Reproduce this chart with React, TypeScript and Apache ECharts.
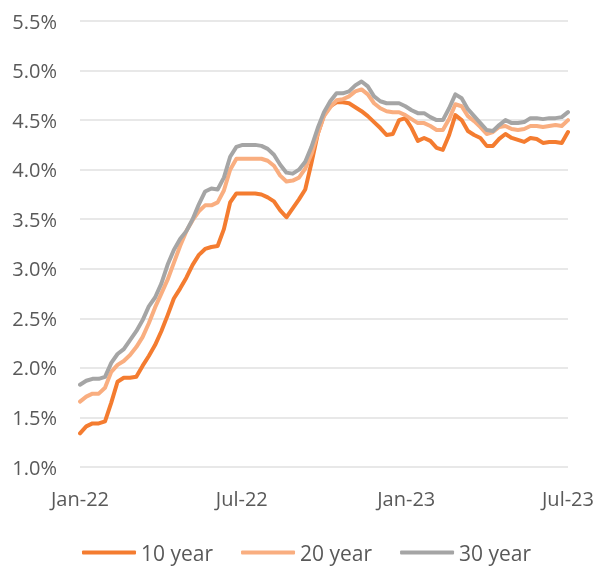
import React, { useEffect, useRef } from "react";
import * as echarts from "echarts";

const dates: string[] = [
  "2022-01-01", "2022-01-08", "2022-01-15", "2022-01-22", "2022-01-29",
  "2022-02-05", "2022-02-12", "2022-02-19", "2022-02-26",
  "2022-03-05", "2022-03-12", "2022-03-19", "2022-03-26",
  "2022-04-02", "2022-04-09", "2022-04-16", "2022-04-23", "2022-04-30",
  "2022-05-07", "2022-05-14", "2022-05-21", "2022-05-28",
  "2022-06-04", "2022-06-11", "2022-06-18", "2022-06-25",
  "2022-07-02", "2022-07-09", "2022-07-16", "2022-07-23", "2022-07-30",
  "2022-08-06", "2022-08-13", "2022-08-20", "2022-08-27",
  "2022-09-03", "2022-09-10", "2022-09-17", "2022-09-24",
  "2022-10-01", "2022-10-08", "2022-10-15", "2022-10-22", "2022-10-29",
  "2022-11-05", "2022-11-12", "2022-11-19", "2022-11-26",
  "2022-12-03", "2022-12-10", "2022-12-17", "2022-12-24", "2022-12-31",
  "2023-01-07", "2023-01-14", "2023-01-21", "2023-01-28",
  "2023-02-04", "2023-02-11", "2023-02-18", "2023-02-25",
  "2023-03-04", "2023-03-11", "2023-03-18", "2023-03-25",
  "2023-04-01", "2023-04-08", "2023-04-15", "2023-04-22", "2023-04-29",
  "2023-05-06", "2023-05-13", "2023-05-20", "2023-05-27",
  "2023-06-03", "2023-06-10", "2023-06-17", "2023-06-24", "2023-07-01",
];

const tenYear: number[] = [
  1.34, 1.41, 1.44, 1.44, 1.46, 1.65, 1.86, 1.90, 1.90, 1.91,
  2.02, 2.12, 2.23, 2.37, 2.53, 2.70, 2.80, 2.91, 3.04, 3.14,
  3.20, 3.22, 3.23, 3.40, 3.67, 3.76, 3.76, 3.76, 3.76, 3.75,
  3.72, 3.68, 3.59, 3.52, 3.61, 3.70, 3.80, 4.07, 4.36, 4.55,
  4.64, 4.68, 4.68, 4.67, 4.63, 4.59, 4.54, 4.48, 4.42, 4.35,
  4.36, 4.50, 4.52, 4.42, 4.29, 4.32, 4.29, 4.22, 4.20, 4.35,
  4.55, 4.50, 4.39, 4.35, 4.32, 4.24, 4.24, 4.31, 4.36, 4.32,
  4.30, 4.28, 4.32, 4.31, 4.27, 4.28, 4.28, 4.27, 4.38,
];

const twentyYear: number[] = [
  1.66, 1.71, 1.74, 1.74, 1.80, 1.96, 2.03, 2.07, 2.13, 2.21,
  2.31, 2.45, 2.61, 2.75, 2.89, 3.06, 3.23, 3.38, 3.49, 3.58,
  3.64, 3.64, 3.67, 3.79, 4.00, 4.11, 4.11, 4.11, 4.11, 4.11,
  4.09, 4.04, 3.94, 3.88, 3.89, 3.92, 4.01, 4.16, 4.36, 4.54,
  4.63, 4.70, 4.71, 4.74, 4.79, 4.81, 4.76, 4.67, 4.62, 4.59,
  4.58, 4.58, 4.55, 4.51, 4.47, 4.47, 4.44, 4.40, 4.40, 4.51,
  4.66, 4.64, 4.54, 4.49, 4.43, 4.36, 4.38, 4.43, 4.44, 4.41,
  4.40, 4.41, 4.44, 4.44, 4.43, 4.44, 4.45, 4.44, 4.50,
];

const thirtyYear: number[] = [
  1.83, 1.87, 1.89, 1.89, 1.91, 2.05, 2.14, 2.19, 2.28, 2.37,
  2.48, 2.62, 2.71, 2.85, 3.04, 3.19, 3.30, 3.38, 3.50, 3.65,
  3.78, 3.81, 3.80, 3.92, 4.13, 4.23, 4.25, 4.25, 4.25, 4.24,
  4.21, 4.15, 4.05, 3.97, 3.96, 4.00, 4.08, 4.23, 4.42, 4.58,
  4.69, 4.77, 4.77, 4.79, 4.85, 4.89, 4.84, 4.74, 4.69, 4.67,
  4.67, 4.67, 4.64, 4.60, 4.57, 4.57, 4.53, 4.50, 4.50, 4.62,
  4.76, 4.72, 4.61, 4.54, 4.47, 4.40, 4.39, 4.45, 4.50, 4.47,
  4.47, 4.48, 4.52, 4.52, 4.51, 4.52, 4.52, 4.53, 4.58,
];

const seriesNames: string[] = ["10 year", "20 year", "30 year"];
const seriesColors: string[] = ["#F47C30", "#F9AE80", "#A5A5A5"];

const tickDates: string[] = ["2022-01-01", "2022-07-01", "2023-01-01", "2023-07-01"];
const tickLabels: string[] = ["Jan-22", "Jul-22", "Jan-23", "Jul-23"];

const toTs = (s: string): number => {
  const [y, m, d] = s.split("-").map(Number);
  return Date.UTC(y, m - 1, d);
};

export default function App() {
  const ref = useRef<HTMLDivElement>(null);

  useEffect(() => {
    if (!ref.current) return;
    const chart = echarts.init(ref.current, undefined, { renderer: "svg" });
    const tickTs = tickDates.map(toTs);
    const allSeries = [tenYear, twentyYear, thirtyYear];
    const font = "'Open Sans', 'Noto Sans', sans-serif";
    chart.setOption({
      animation: false,
      grid: { left: 80, right: 29, top: 21, bottom: 99, containLabel: false },
      xAxis: {
        type: "value",
        min: tickTs[0],
        max: tickTs[tickTs.length - 1],
        axisLine: { show: false },
        axisTick: { show: false },
        splitLine: { show: false },
        axisLabel: {
          customValues: tickTs,
          margin: 21,
          fontSize: 20,
          fontFamily: font,
          color: "#595959",
          showMinLabel: true,
          showMaxLabel: true,
          hideOverlap: false,
          formatter: (v: number) => {
            const i = tickTs.findIndex((t) => Math.abs(t - v) < 3600000 * 12);
            return i >= 0 ? tickLabels[i] : "";
          },
        },
      },
      yAxis: {
        type: "value",
        min: 1,
        max: 5.5,
        interval: 0.5,
        axisLine: { show: false },
        axisTick: { show: false },
        splitLine: { lineStyle: { color: "#E0E0E0", width: 1.5 } },
        axisLabel: {
          margin: 23,
          fontSize: 20,
          fontFamily: font,
          color: "#595959",
          formatter: (v: number) => v.toFixed(1) + "%",
        },
      },
      legend: {
        data: seriesNames,
        left: 82,
        top: 542,
        padding: 0,
        itemGap: 28,
        itemWidth: 54,
        itemHeight: 4,
        icon: "roundRect",
        textStyle: { fontSize: 21, fontFamily: font, color: "#595959" },
      },
      series: allSeries.map((vals, si) => ({
        name: seriesNames[si],
        type: "line",
        symbol: "none",
        showSymbol: false,
        color: seriesColors[si],
        lineStyle: { width: 4, color: seriesColors[si], join: "round", cap: "round" },
        data: vals.map((v, i) => [toTs(dates[i]), v]),
      })),
    });
    return () => chart.dispose();
  }, []);

  return (
    <div
      ref={ref}
      style={{ position: "fixed", left: 0, top: 0, width: 597, height: 566 }}
    />
  );
}
